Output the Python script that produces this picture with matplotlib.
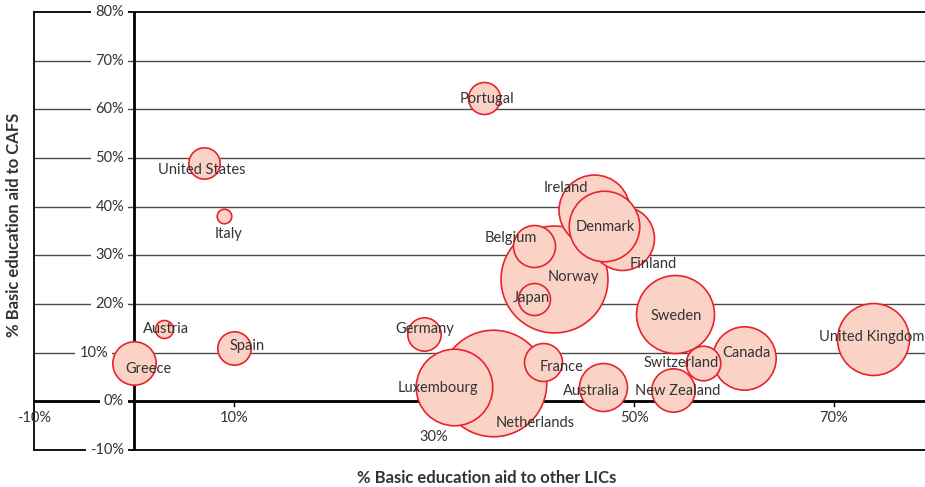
import numpy as np
import matplotlib.pyplot as plt

# Dados (em %), na ordem de desenho
countries = ["Netherlands", "Luxembourg", "Norway", "Belgium", "Japan", "Ireland",
             "Finland", "Denmark", "Sweden", "United Kingdom", "Canada", "Switzerland",
             "New Zealand", "Australia", "France", "Germany", "Greece", "Austria",
             "Spain", "United States", "Italy", "Portugal"]
aid_other_lics = [35.9, 32.0, 42.0, 40.0, 40.0, 46.0, 48.8, 47.0, 54.1, 73.9, 61.0, 56.9,
                  53.9, 46.9, 40.9, 29.0, 0.0, 3.0, 10.0, 7.0, 9.0, 35.0]
aid_cafs = [3.8, 2.9, 25.1, 32.0, 21.0, 39.3, 33.5, 36.0, 18.0, 12.9, 9.0, 7.9,
            2.4, 2.9, 8.0, 13.9, 7.9, 14.8, 11.0, 49.0, 38.1, 62.3]
# volume relativo (tamanho da bolha)
aid_volume = [2841, 1467, 2862, 441, 256, 1260, 1024, 1246, 1521, 1296, 1005, 299,
              471, 576, 361, 279, 471, 81, 279, 246, 53, 256]

y_ticks = [-10, 0, 10, 20, 30, 40, 50, 60, 70, 80]
x_tick_labels = [-10, 10, 30, 50, 70]

# deslocamento dos rótulos (pixels, x para direita, y para baixo)
label_offsets = [(42, 40), (-16, 1), (19, -2), (-23, -8), (-3, -1), (-28, -22),
                 (31, 26), (1, 1), (1, 2), (-1, -2), (2, -5), (-22, 0),
                 (5, 1), (-12, 4), (19, 5), (1, -5), (14, 6), (2, 0),
                 (13, -2), (-2, 7), (4, 18), (3, 1)]

plt.rcParams['font.family'] = ['Lato', 'DejaVu Sans']
text_color = '#333333'

fig = plt.figure(figsize=(9.25, 4.87), dpi=100)
ax = fig.add_axes([34 / 925, 1 - 450 / 487, 900 / 925, 438 / 487])
ax.set_xlim(-10, 80)
ax.set_ylim(-10, 80)

# grade horizontal
for yv in y_ticks[1:-1]:
    ax.axhline(yv, color='#4a4a4a', lw=1, zorder=1)

# eixos em zero
ax.axhline(0, color='black', lw=2, zorder=2)
ax.axvline(0, color='black', lw=2, zorder=2)

for side in ['top', 'bottom', 'left']:
    ax.spines[side].set_linewidth(1.3)
ax.spines['right'].set_visible(False)
ax.set_xticks([])
ax.set_yticks([])

# bolhas
sizes = np.array(aid_volume) * 2.07
for i in range(len(countries)):
    ax.scatter(aid_other_lics[i], aid_cafs[i], s=sizes[i], color='#fbd3c6',
               edgecolors='#e8232d', linewidths=1.2, zorder=4 + i * 0.01)

for i, name in enumerate(countries):
    dx, dy = label_offsets[i]
    ax.annotate(name, (aid_other_lics[i], aid_cafs[i]), xytext=(dx, -dy),
                textcoords='offset pixels', ha='center', va='center',
                fontsize=10.5, color=text_color, zorder=10, clip_on=False)

# rótulos do eixo y (na linha do zero)
for yv in y_ticks:
    shift = -16 if yv == 10 else 0
    ax.annotate(f"{yv}%", (0, yv), xytext=(-10 + shift, 0), textcoords='offset pixels',
                ha='right', va='center', fontsize=10.5, color=text_color, zorder=6,
                bbox=dict(boxstyle='square,pad=0.3', fc='white', ec='none'),
                annotation_clip=False)

# rótulos do eixo x
for xv in x_tick_labels:
    drop = 36 if xv == 30 else 17
    ax.annotate(f"{xv}%", (xv, 0), xytext=(0, -drop), textcoords='offset pixels',
                ha='center', va='center', fontsize=10.5, color=text_color, zorder=6,
                annotation_clip=False)
    if xv > 0:
        ax.plot([xv, xv], [0, -0.9], color='black', lw=1, zorder=2)

fig.text(487 / 925, 1 - 478 / 487, "% Basic education aid to other LICs", ha='center',
         va='center', fontsize=12, fontweight='bold', color=text_color)
fig.text(14 / 925, 1 - 225 / 487, "% Basic education aid to CAFS", ha='center',
         va='center', rotation=90, fontsize=12, fontweight='bold', color=text_color)

fig.savefig("out.png", dpi=100)
